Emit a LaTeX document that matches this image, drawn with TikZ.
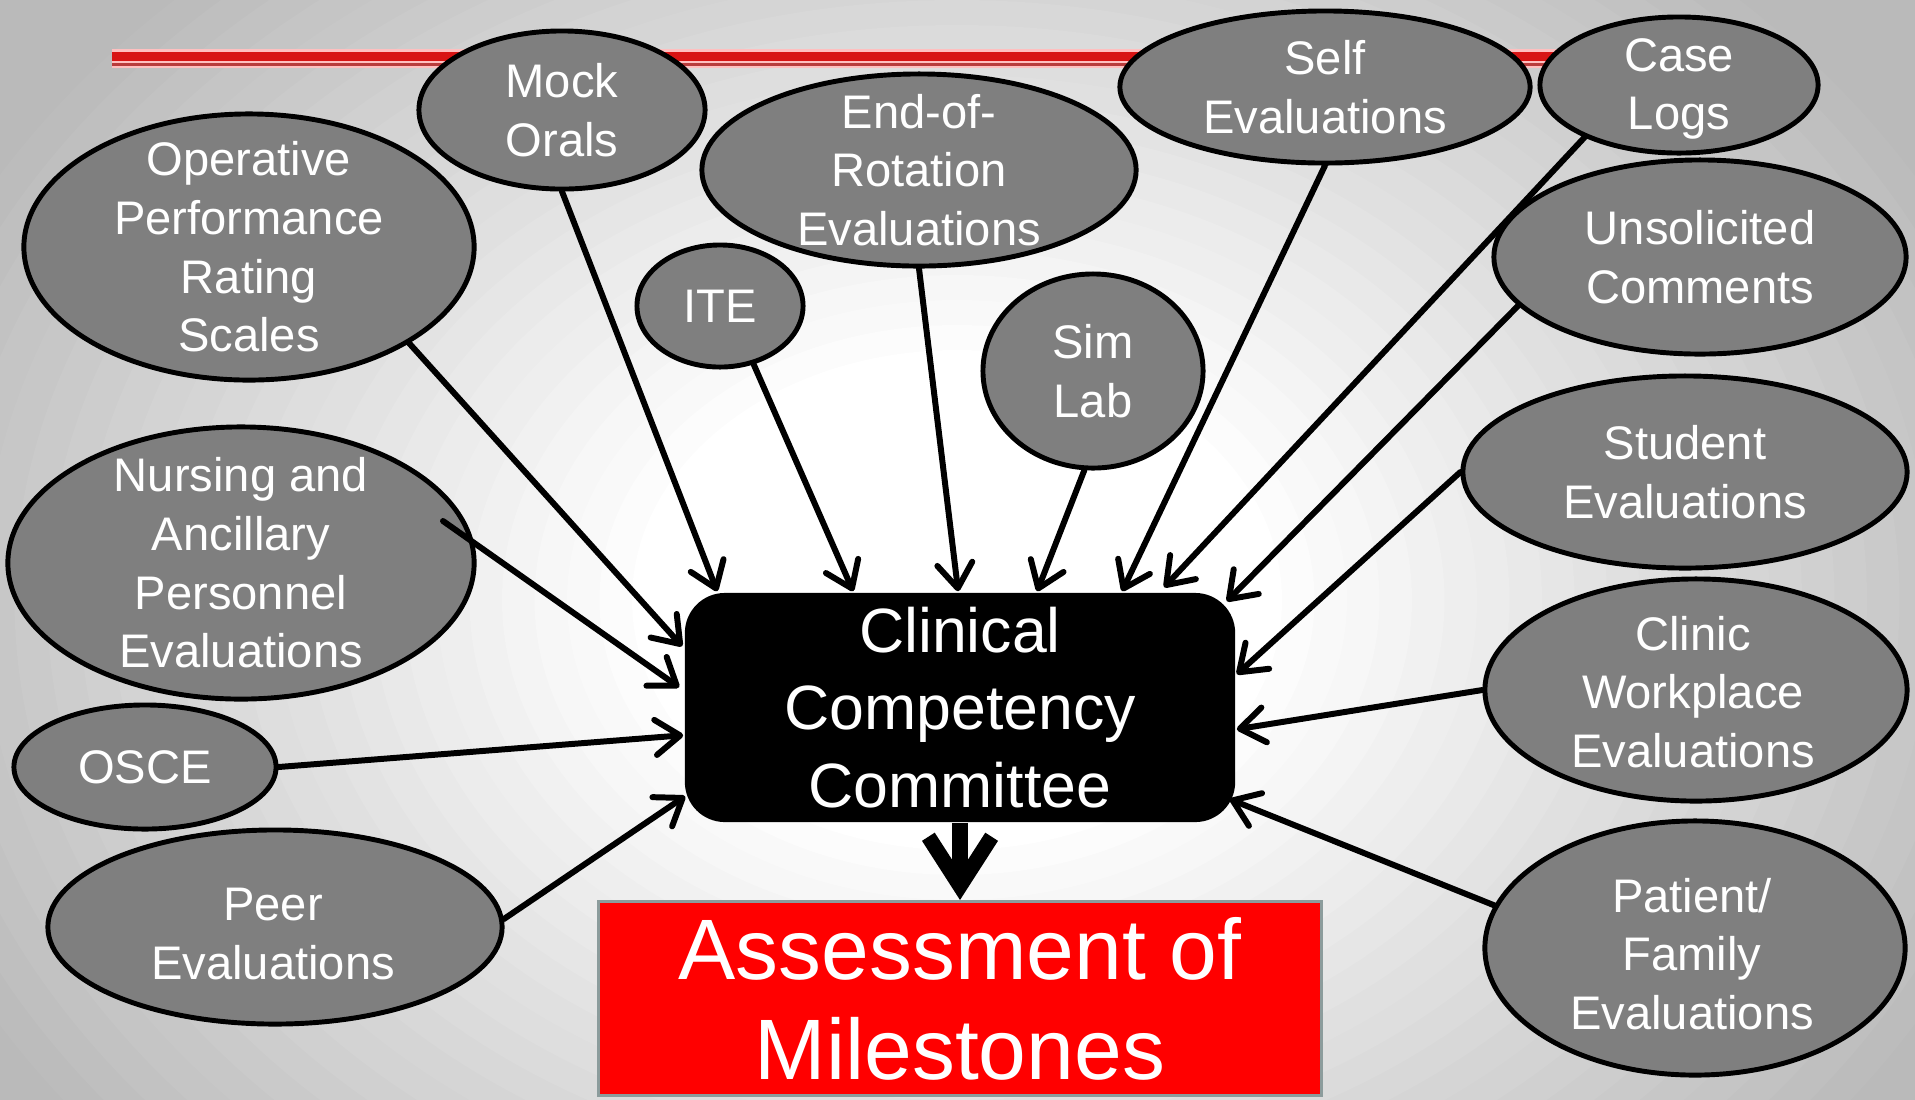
\documentclass[tikz,border=0pt]{standalone}
\usepackage{fontspec}
\setmainfont{Liberation Sans}
\usetikzlibrary{shapes.geometric,arrows.meta,calc}
\definecolor{ellgray}{HTML}{7F7F7F}
\definecolor{redline}{HTML}{D81414}
\definecolor{redthin}{HTML}{B83C3C}
\definecolor{boxedge}{HTML}{8C9C9C}
\begin{document}
\begin{tikzpicture}[x=0.01cm,y=-0.01cm,
  ell/.style={ellipse,draw=black,line width=1.4pt,fill=ellgray,inner sep=0pt},
  etext/.style={text=white,align=center,inner sep=0pt,font=\fontsize{13.4}{16.7}\selectfont},
  cccbox/.style={rectangle,rounded corners=0.4cm,fill=black,minimum width=5.5cm,minimum height=2.29cm,inner sep=0pt,text=white,align=center,font=\fontsize{17.8}{22}\selectfont},
  redbox/.style={rectangle,fill=red,draw=boxedge,line width=0.85pt,minimum width=7.22cm,minimum height=1.94cm,inner sep=0pt,text=white,align=center,font=\fontsize{24.4}{28.5}\selectfont},
  conn/.style={line width=1.7pt,line cap=round,-{Straight Barb[length=7pt,width=10pt,round]}},
  bigarr/.style={line width=4.3pt,-{Straight Barb[length=14pt,width=18pt]}}
]
\useasboundingbox (0,0) rectangle (1915,1099);
% background: radial grey-to-white gradient
\begin{scope}
\clip (0,0) rectangle (1915,1099);
\fill[black!27] (0,0) rectangle (1915,1099);
\foreach \i in {40,39,...,1}{
  \pgfmathsetmacro{\p}{max(0,min(27,(\i/40-0.25)/0.62*27))}
  \pgfmathsetmacro{\rx}{32.5*\i}
  \pgfmathsetmacro{\ry}{25*\i}
  \fill[black!\p] (957,600) ellipse [x radius=\rx, y radius=\ry];
}
\end{scope}
% red rule
\draw[red!25,line width=0.19cm] (112,58.5) -- (1800,58.5);
\draw[redline,line width=0.09cm] (112,56.5) -- (1800,56.5);
\draw[redthin,line width=0.025cm] (112,64.5) -- (1800,64.5);

% ellipses
\node[ell,minimum width=2.86cm,minimum height=1.58cm] (mock) at (562,110) {};
\node[ell,minimum width=4.50cm,minimum height=2.66cm] (op) at (249,247) {};
\node[ell,minimum width=4.34cm,minimum height=1.92cm] (eor) at (919,170) {};
\node[ell,minimum width=1.66cm,minimum height=1.22cm] (ite) at (720,306) {};
\node[ell,minimum width=4.10cm,minimum height=1.52cm] (self) at (1325,87) {};
\node[ell,minimum width=2.78cm,minimum height=1.36cm] (case) at (1679,85) {};
\node[ell,minimum width=4.12cm,minimum height=1.94cm] (uns) at (1700,257) {};
\node[ell,minimum width=2.20cm,minimum height=1.94cm] (sim) at (1093,371) {};
\node[ell,minimum width=4.44cm,minimum height=1.92cm] (stu) at (1685,472) {};
\node[ell,minimum width=4.66cm,minimum height=2.72cm] (nur) at (241,563) {};
\node[ell,minimum width=2.62cm,minimum height=1.24cm] (osce) at (145,767) {};
\node[ell,minimum width=4.54cm,minimum height=1.94cm] (peer) at (275,927) {};
\node[ell,minimum width=4.22cm,minimum height=2.22cm] (clin) at (1696,690) {};
\node[ell,minimum width=4.20cm,minimum height=2.54cm] (pat) at (1695,948) {};

% central boxes
\node[cccbox] (ccc) at (960,707.5) {Clinical\\Competency\\Committee};
\node[redbox] (ams) at (960,998.5) {Assessment of\\Milestones};

% connectors
\draw[conn] (op.-31) -- ($(ccc.north west)+(-2,54)$);
\draw[conn] (mock.-90) -- ($(ccc.north west)+(33,-1)$);
\draw[conn] (ite.-60) -- ($(ccc.north west)+(169,-1)$);
\draw[conn] (eor.-90) -- ($(ccc.north west)+(274,-1)$);
\draw[conn] (sim.-95) -- ($(ccc.north west)+(353,-1)$);
\draw[conn] (self.-90) -- ($(ccc.north west)+(438,-1)$);
\draw[conn] (case.-151) -- ($(ccc.north west)+(480,-5)$);
\draw[conn] (uns.-165) -- ($(ccc.north east)+(-9,9)$);
\draw[conn] (stu.180) -- ($(ccc.north east)+(1,82)$);
\draw[conn] (clin.180) -- ($(ccc.north east)+(1,137)$);
\draw[conn] (pat.168) -- ($(ccc.north east)+(-6,207)$);
\draw[conn] ($(nur.center)+(202,-42)$) -- ($(ccc.north west)+(-5,95)$);
\draw[conn] (osce.0) -- ($(ccc.north west)+(-1,143)$);
\draw[conn] (peer.2) -- ($(ccc.north west)+(1,204)$);
\draw[bigarr] (ccc.south) -- (ams.north);

% ellipse texts
\node[etext] (mock-t) at (mock) {Mock\\Orals};
\node[etext] (op-t) at (op) {Operative\\Performance\\Rating\\Scales};
\node[etext] (eor-t) at (eor) {End-of-\\Rotation\\Evaluations};
\node[etext] (ite-t) at (ite) {ITE};
\node[etext] (self-t) at (self) {Self\\Evaluations};
\node[etext] (case-t) at ($(case)+(0,4)$) {Case\\Logs};
\node[etext] (uns-t) at (uns) {Unsolicited\\Comments};
\node[etext] (sim-t) at (sim) {Sim\\Lab};
\node[etext] (stu-t) at (stu) {Student\\Evaluations};
\node[etext] (nur-t) at (nur) {Nursing and\\Ancillary\\Personnel\\Evaluations};
\node[etext] (osce-t) at (osce) {OSCE};
\node[etext] (peer-t) at ($(peer)+(-2,7)$) {Peer\\Evaluations};
\node[etext] (clin-t) at ($(clin)+(-3,2)$) {Clinic\\Workplace\\Evaluations};
\node[etext] (pat-t) at ($(pat)+(-3,6)$) {Patient/\\Family\\Evaluations};
\end{tikzpicture}
\end{document}
